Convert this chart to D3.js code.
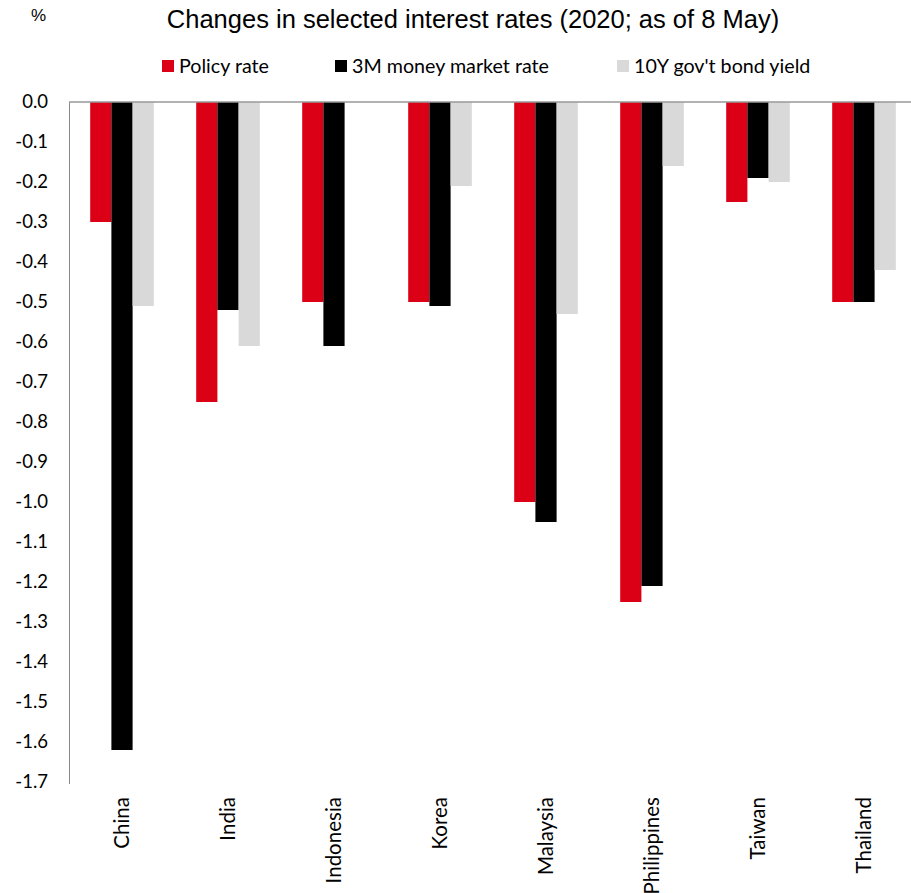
<!DOCTYPE html>
<html>
<head>
<meta charset="utf-8">
<script src="https://cdn.jsdelivr.net/npm/d3@7"></script>
<style>
  html, body { margin: 0; padding: 0; background: #fff; }
  svg { display: block; }
</style>
</head>
<body>
<svg id="chart" width="911" height="893"></svg>
<script>
// Changes in selected interest rates since start of 2020, percentage points
const categories = ["China", "India", "Indonesia", "Korea", "Malaysia", "Philippines", "Taiwan", "Thailand"];
const seriesNames = ["Policy rate", "3M money market rate", "10Y gov't bond yield"];
const policyRate = [-0.30, -0.75, -0.50, -0.50, -1.00, -1.25, -0.25, -0.50];
const moneyMarket3M = [-1.62, -0.52, -0.61, -0.51, -1.05, -1.21, -0.19, -0.50];
const bondYield10Y = [-0.51, -0.61, 0, -0.21, -0.53, -0.16, -0.20, -0.42];
const yTicks = [0.0, -0.1, -0.2, -0.3, -0.4, -0.5, -0.6, -0.7, -0.8, -0.9, -1.0, -1.1, -1.2, -1.3, -1.4, -1.5, -1.6, -1.7];

const colors = ["#DC0016", "#000000", "#D9D9D9"];
const seriesValues = [policyRate, moneyMarket3M, bondYield10Y];

const svg = d3.select("#chart");
const labelFont = "Lato, 'Open Sans', sans-serif";

const left = 69, plotRight = 917, zeroY = 102, bottomY = 782;

const x0 = d3.scaleBand().domain(categories).range([left, plotRight]).paddingInner(0).paddingOuter(0);
const x1 = d3.scaleBand().domain(d3.range(seriesNames.length))
  .range([x0.bandwidth() * 0.2, x0.bandwidth() * 0.8]).padding(0);
const y = d3.scaleLinear().domain([0, -1.7]).range([zeroY, bottomY]);

// Title and unit
svg.append("text")
  .attr("x", 473).attr("y", 28)
  .attr("text-anchor", "middle")
  .attr("font-family", "'Liberation Sans', Arial, sans-serif")
  .attr("font-size", 25.5)
  .attr("fill", "#000")
  .text("Changes in selected interest rates (2020; as of 8 May)");

svg.append("text")
  .attr("x", 31).attr("y", 21)
  .attr("font-family", "'Liberation Sans', Arial, sans-serif")
  .attr("font-size", 17)
  .text("%");

// Legend
const legendX = [162, 335, 617];
const legend = svg.append("g");
seriesNames.forEach((name, i) => {
  const g = legend.append("g").attr("transform", `translate(${legendX[i]},60)`);
  g.append("rect").attr("width", 12).attr("height", 12).attr("fill", colors[i]);
  g.append("text")
    .attr("x", 17).attr("y", 13)
    .attr("font-family", labelFont)
    .attr("font-size", 19.7)
    .attr("fill", "#000")
    .text(name);
});

// Bars
const groups = svg.append("g").selectAll("g")
  .data(categories)
  .join("g")
  .attr("transform", d => `translate(${x0(d)},0)`);

groups.selectAll("rect")
  .data((d, ci) => seriesValues.map((vals, si) => ({ si, v: vals[ci] })))
  .join("rect")
  .attr("x", d => x1(d.si))
  .attr("width", x1.bandwidth())
  .attr("y", y(0))
  .attr("height", d => y(d.v) - y(0))
  .attr("fill", d => colors[d.si]);

// Y axis
const yAxis = d3.axisLeft(y)
  .tickValues(yTicks)
  .tickSize(0)
  .tickPadding(21)
  .tickFormat(d => d3.format(".1f")(d).replace("−", "-"));

const yg = svg.append("g").attr("transform", `translate(${left},0)`).call(yAxis);
yg.select(".domain").attr("stroke", "#888").attr("stroke-width", 1)
  .attr("d", `M0.5,${zeroY}V${bottomY + 2}`);
yg.selectAll("text")
  .attr("font-family", labelFont)
  .attr("font-size", 18.5)
  .attr("fill", "#000");

// Zero line
svg.append("line")
  .attr("x1", left).attr("x2", 911)
  .attr("y1", y(0)).attr("y2", y(0))
  .attr("stroke", "#999").attr("stroke-width", 1.5);

// Category labels
const xAxis = d3.axisBottom(x0).tickSize(0).tickPadding(0);
const xg = svg.append("g").attr("transform", `translate(0,${bottomY + 15})`).call(xAxis);
xg.select(".domain").remove();
xg.selectAll("text")
  .attr("font-family", labelFont)
  .attr("font-size", 20.5)
  .attr("fill", "#000")
  .attr("transform", "rotate(-90)")
  .attr("text-anchor", "end")
  .attr("x", 0).attr("y", 0)
  .attr("dy", "0.35em");
</script>
</body>
</html>
